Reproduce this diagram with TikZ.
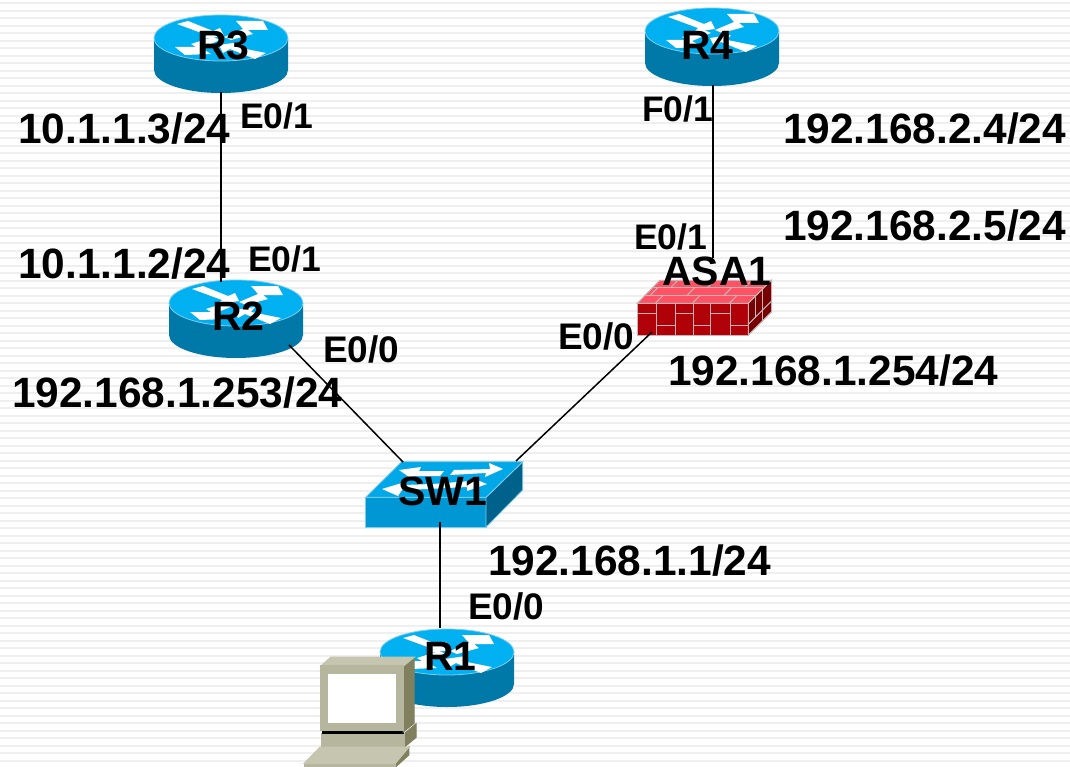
\documentclass[tikz,border=0pt]{standalone}
\usepackage{fontspec}
\setmainfont{Liberation Sans}
\definecolor{rtop}{HTML}{00B0F0}
\definecolor{rside}{HTML}{0079A8}
\definecolor{redge}{HTML}{7CCDEE}
\definecolor{stop}{HTML}{00A8E8}
\definecolor{sfront}{HTML}{0098D4}
\definecolor{sside}{HTML}{00628A}
\definecolor{fwtop}{HTML}{FF5264}
\definecolor{fwfront}{HTML}{B00008}
\definecolor{fwside}{HTML}{780000}
\definecolor{mortar}{HTML}{C4B4B4}
\definecolor{pcfront}{HTML}{B6B69E}
\definecolor{pctop}{HTML}{C6C6B0}
\definecolor{pcside}{HTML}{80805F}
\definecolor{pcedge}{HTML}{5F5F48}
\definecolor{stripe}{HTML}{EFEFEF}
\tikzset{
  x=1pt,y=-1pt,
  link/.style={draw=black,line width=1.5pt},
  devname/.style={anchor=base west,inner sep=0pt,font=\fontsize{41}{41}\selectfont\bfseries},
  portname/.style={anchor=base west,inner sep=0pt,font=\fontsize{35.5}{36}\selectfont\bfseries},
  portnameb/.style={anchor=base west,inner sep=0pt,font=\fontsize{37}{38}\selectfont\bfseries},
  ipname/.style={anchor=base west,inner sep=0pt,font=\fontsize{42.4}{43}\selectfont\bfseries},
  router/.pic={
    \fill[rside] (-67,0) -- (-67,32) arc[start angle=180,end angle=0,x radius=67,y radius=23] -- (67,0) -- cycle;
    \fill[rtop,draw=redge,line width=.8pt] (0,0) ellipse[x radius=67,y radius=23];
    \fill[white] (-44,-14) -- (-33,-17) -- (-8,-7) -- (-1,-10) -- (3,-2) -- (-18,1) -- (-14,-3) -- cycle;
    \fill[white] (15,-17) -- (42,-17) -- (47,-8) -- (27,-8) -- (32,-4) -- (10,2) -- (3,-1) -- (22,-9) -- cycle;
    \fill[white] (-46,9) -- (-25,9) -- (-30,6) -- (-8,-1) -- (-1,2) -- (-20,10) -- (-10,16) -- (-36,17) -- cycle;
    \fill[white] (45,15) -- (34,21) -- (9,11) -- (2,15) -- (-2,7) -- (19,4) -- (15,9) -- cycle;
  },
}
\begin{document}
\begin{tikzpicture}
\useasboundingbox (0,0) rectangle (1070,767);
\fill[white] (0,0) rectangle (1070,767);
\foreach \k in {0,...,102}{
  \fill[stripe] (0,{2.4+7.5*\k}) rectangle (1070,{4.4+7.5*\k});
}
% routers
\pic at (221,38) {router};
\pic at (712,31) {router};
\pic at (236,303) {router};
\pic at (447,652) {router};
% switch
\fill[sfront,draw=redge,line width=.8pt] (365.7,497.3) rectangle (486,527.3);
\fill[sside,draw=redge,line width=.8pt] (486,497.3) -- (522.7,461.7) -- (522.7,490) -- (486,527.3) -- cycle;
\fill[stop,draw=redge,line width=.8pt] (401.7,461.7) -- (522.7,461.7) -- (486,497.3) -- (365.7,497.3) -- cycle;
\fill[white] (399,470) -- (421,467) -- (419,471) -- (444,471) -- (440,476) -- (414,476) -- (412,479) -- cycle;
\fill[white] (454,470) -- (490,469) -- (489,463) -- (503,469) -- (485,477) -- (486,473) -- (450,475) -- cycle;
\fill[white] (382,489) -- (405,482) -- (404,485) -- (432,484) -- (428,489) -- (402,490) -- (398,496) -- cycle;
\fill[white] (433,484) -- (470,481) -- (472,478) -- (487,484) -- (467,491) -- (467,487) -- (428,489) -- cycle;
% firewall
\fill[fwfront] (637.3,303.3) rectangle (748.3,335);
\begin{scope}[mortar,line width=1pt]
  \draw (637.3,303.3) rectangle (748.3,335);
  \foreach \xa in {656.7,675,693.3,710.7,730}{\draw (\xa,303.3) -- (\xa,335);}
  \draw (637.3,313) -- (656.7,313) (675,313) -- (693.3,313) (710.7,313) -- (730,313);
  \draw (656.7,325) -- (675,325) (693.3,325) -- (710.7,325) (730,325) -- (748.3,325);
\end{scope}
\begin{scope}[shift={(637.3,303.3)},xslant=0.98]
  \fill[fwtop,draw=mortar,line width=1pt] (0,0) rectangle (111,-23);
  \begin{scope}[mortar,line width=1pt]
    \draw (0,-8) -- (111,-8) (0,-15.5) -- (111,-15.5);
    \foreach \xa in {18,55,92}{\draw (\xa,0) -- (\xa,-8);}
    \foreach \xa in {5,42,79}{\draw (\xa,-8) -- (\xa,-15.5);}
    \foreach \xa in {18,55,92}{\draw (\xa,-15.5) -- (\xa,-23);}
  \end{scope}
\end{scope}
\begin{scope}[shift={(748.3,303.3)},yslant=1]
  \fill[fwside,draw=mortar,line width=1pt] (0,0) rectangle (23.4,31.7);
  \begin{scope}[mortar,line width=1pt]
    \draw (0,21) -- (23.4,21);
    \draw (6.7,0) -- (6.7,21) (14,0) -- (14,31.7);
  \end{scope}
\end{scope}
% computer
\begin{scope}[pcedge,line width=1.2pt]
  \fill[pcside,draw] (404,734) -- (416,724) -- (416,737.3) -- (404,747.3) -- cycle;
  \fill[pcfront,draw] (321.7,734) rectangle (404,747.3);
  \fill[black] (321.7,730.7) rectangle (404,734);
  \fill[pcside,draw] (403.3,666) -- (414,657.3) -- (414,723.3) -- (403.3,731.7) -- cycle;
  \fill[pctop,draw] (321,666) -- (330.7,657.3) -- (414,657.3) -- (403.3,666) -- cycle;
  \fill[pcfront,draw] (321,666) rectangle (403.3,730.7);
  \fill[white,draw] (328.3,674.3) rectangle (395.3,722.7);
  \fill[pcside,draw] (408.7,747.3) -- (408.7,755) -- (395.3,767) -- (395.3,763.3) -- cycle;
  \fill[pcfront,draw] (304.3,763.3) rectangle (395.3,767);
  \fill[pctop,draw] (304.3,763.3) -- (320,747.3) -- (408.7,747.3) -- (395.3,763.3) -- cycle;
\end{scope}
% connection points
\coordinate (r3port) at (221,92);
\coordinate (r2top) at (221,282);
\coordinate (r2port) at (289,345);
\coordinate (r4port) at (713,85);
\coordinate (asatop) at (713,258);
\coordinate (asaport) at (652,332);
\coordinate (swleft) at (403,462);
\coordinate (swright) at (516,461);
\coordinate (swbottom) at (440,522);
\coordinate (r1top) at (440,628);
\draw[link] (r3port) -- (r2top);
\draw[link] (r4port) -- (asatop);
\draw[link] (r2port) -- (swleft);
\draw[link] (asaport) -- (swright);
\draw[link] (swbottom) -- (r1top);
% device names
\node[devname] (R3) at (197,60) {R3};
\node[devname] (R4) at (681,60) {R4};
\node[devname] (R2) at (212,330) {R2};
\node[devname] (R1) at (424,670) {R1};
\node[devname] (SW1) at (398,505) {SW1};
\node[devname] (ASA1) at (662,285) {ASA1};
% ports
\node[portname] (p1) at (240,129) {E0/1};
\node[portname] (p2) at (642,122) {F0/1};
\node[portname] (p3) at (634,250) {E0/1};
\node[portname] (p4) at (248,272) {E0/1};
\node[portnameb] (p5) at (323,362) {E0/0};
\node[portnameb] (p6) at (558,349) {E0/0};
\node[portnameb] (p7) at (468,619) {E0/0};
% addresses
\node[ipname] (a1) at (18,144) {10.1.1.3/24};
\node[ipname] (a2) at (783,144) {192.168.2.4/24};
\node[ipname] (a3) at (783,241) {192.168.2.5/24};
\node[ipname] (a4) at (18,278) {10.1.1.2/24};
\node[ipname] (a5) at (12,407) {192.168.1.253/24};
\node[ipname] (a6) at (668,385) {192.168.1.254/24};
\node[ipname] (a7) at (488,575) {192.168.1.1/24};
\end{tikzpicture}
\end{document}
